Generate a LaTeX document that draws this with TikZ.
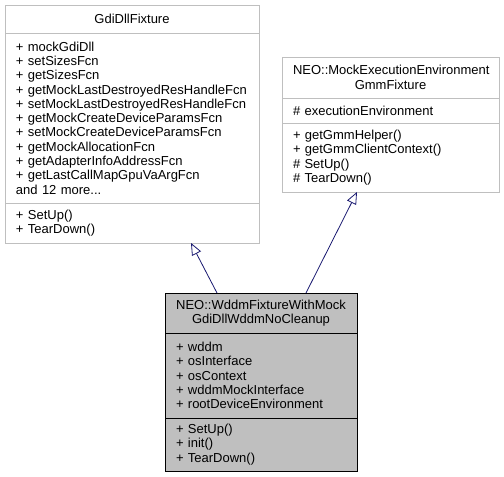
\documentclass[tikz,border=0pt]{standalone}
\usepackage{fontspec}
\setmainfont{Liberation Sans}
\usetikzlibrary{arrows.meta, positioning}
\definecolor{edgegrey}{HTML}{BFBFBF}
\definecolor{hitgrey}{HTML}{BFBFBF}
\definecolor{inheritblue}{HTML}{191970}
\tikzset{
    part/.style={rectangle, draw=edgegrey, fill=white, inner xsep=11pt, inner ysep=0pt, outer sep=0pt, line width=0.8pt, font=\fontsize{13}{14.3}\selectfont},
    clshead/.style={part, align=center},
    clsbody/.style={part, align=left},
    hit/.style={draw=black, fill=hitgrey},
    inherit/.style={-{Triangle[open, length=12pt, width=10pt]}, draw=inheritblue, line width=0.8pt},
}

\begin{document}
\begin{tikzpicture}
\useasboundingbox (0,0) rectangle (504pt,-477pt);

% ── GdiDllFixture ──
\node[clshead, text width=232pt, minimum height=28pt, anchor=north west] (gdi) at (5pt,-5pt) {GdiDllFixture};
\node[clsbody, text width=232pt, minimum height=170pt, below=0pt of gdi] (gdiattr) {%
+ mockGdiDll\\
+ setSizesFcn\\
+ getSizesFcn\\
+~getMockLastDestroyedResHandleFcn\\
+~setMockLastDestroyedResHandleFcn\\
+ getMockCreateDeviceParamsFcn\\
+ setMockCreateDeviceParamsFcn\\
+ getMockAllocationFcn\\
+ getAdapterInfoAddressFcn\\
+ getLastCallMapGpuVaArgFcn\\
and 12 more...};
\node[clsbody, text width=232pt, minimum height=40pt, below=0pt of gdiattr] (gdiops) {+ SetUp()\\+ TearDown()};

% ── NEO::MockExecutionEnvironmentGmmFixture ──
\node[clshead, text width=195pt, minimum height=41pt, anchor=north west] (mock) at (282pt,-57pt) {NEO::MockExecutionEnvironment\\GmmFixture};
\node[clsbody, text width=195pt, minimum height=25pt, below=0pt of mock] (mockattr) {\# executionEnvironment};
\node[clsbody, text width=195pt, minimum height=69pt, below=0pt of mockattr] (mockops) {%
+ getGmmHelper()\\
+ getGmmClientContext()\\
\# SetUp()\\
\# TearDown()};

% ── NEO::WddmFixtureWithMockGdiDllWddmNoCleanup ──
\node[clshead, hit, text width=170pt, minimum height=40pt, anchor=north west] (wddm) at (165pt,-293pt) {NEO::WddmFixtureWithMock\\GdiDllWddmNoCleanup};
\node[clsbody, hit, text width=170pt, minimum height=85pt, below=0pt of wddm] (wddmattr) {%
+ wddm\\
+ osInterface\\
+ osContext\\
+ wddmMockInterface\\
+ rootDeviceEnvironment};
\node[clsbody, hit, text width=170pt, minimum height=53pt, below=0pt of wddmattr] (wddmops) {%
+ SetUp()\\
+ init()\\
+ TearDown()};

% ── Inheritance ──
\draw[inherit] ([xshift=52pt]wddm.north west) -- ([xshift=186pt]gdiops.south west);
\draw[inherit] ([xshift=141pt]wddm.north west) -- ([xshift=75pt]mockops.south west);

\end{tikzpicture}
\end{document}
